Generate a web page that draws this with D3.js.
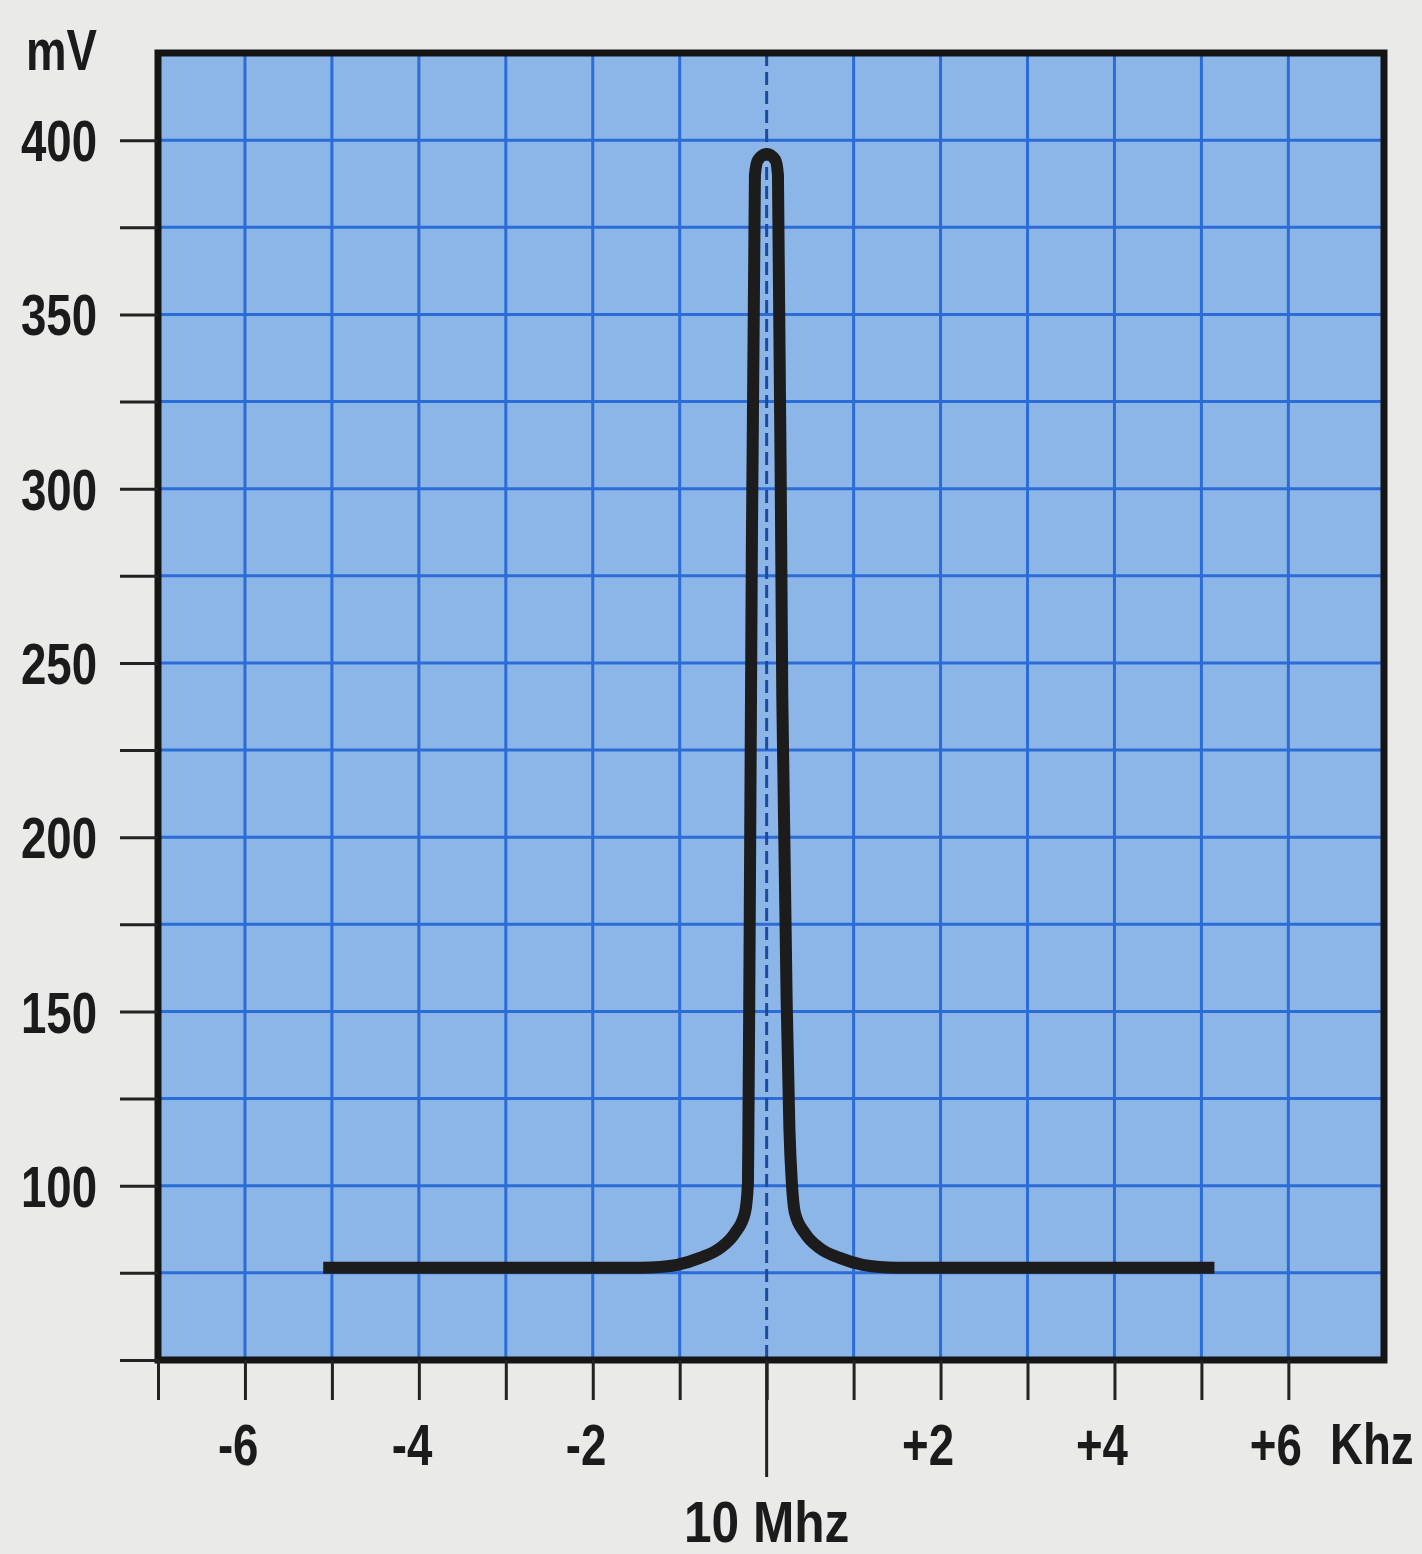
<!DOCTYPE html>
<html>
<head>
<meta charset="utf-8">
<script src="https://cdn.jsdelivr.net/npm/d3@7"></script>
<style>
  html, body { margin: 0; padding: 0; background: #eaeae8; }
  svg { display: block; }
  .lbl { font-family: "Liberation Sans", Arial, sans-serif; font-weight: bold; fill: #1b1b1b; }
</style>
</head>
<body>
<svg id="chart" width="1422" height="1554"></svg>
<script>
// Resonance curve of a 10 MHz filter: output level (mV) vs. offset from centre (kHz)
const offsetKhz = [-5.1, -1.45, -1.23, -1.03, -0.767, -0.537, -0.365, -0.25, -0.215, -0.21, -0.2, -0.18, -0.135, -0.1, 0,
                   0.1, 0.13, 0.18, 0.23, 0.262, 0.29, 0.325, 0.44, 0.61, 0.84, 1.105, 1.3, 1.5, 5.15];
const levelMv   = [76.5, 76.5, 76.7, 77.3, 79.3, 82.1, 86.4, 92.2, 100.8, 116, 153, 240, 390, 394.3, 396,
                   394.3, 390, 240, 153, 116, 100.8, 92.2, 86.4, 82.1, 79.3, 77.3, 76.7, 76.5, 76.5];

const yTicks = [50, 75, 100, 125, 150, 175, 200, 225, 250, 275, 300, 325, 350, 375, 400];
const yLabelled = [100, 150, 200, 250, 300, 350, 400];
const xTicks = [-7, -6, -5, -4, -3, -2, -1, 0, 1, 2, 3, 4, 5, 6];
const xLabelled = [-6, -4, -2, 2, 4, 6];
const xGrid = [-6, -5, -4, -3, -2, -1, 1, 2, 3, 4, 5, 6];
const yGrid = [75, 100, 125, 150, 175, 200, 225, 250, 275, 300, 325, 350, 375, 400];

const svg = d3.select("#chart");
const plotLeft = 158, plotRight = 1384, plotTop = 53, plotBottom = 1360;

const x = d3.scaleLinear().domain([-7, 7.1]).range([plotLeft, plotRight]);
const y = d3.scaleLinear().domain([50, 425]).range([plotBottom, plotTop]);

// plot background
svg.append("rect")
  .attr("x", plotLeft).attr("y", plotTop)
  .attr("width", plotRight - plotLeft).attr("height", plotBottom - plotTop)
  .attr("fill", "#8db6e8");

// grid
const grid = svg.append("g").attr("stroke", "#2b6cd6").attr("stroke-width", 3);
grid.selectAll("line.v").data(xGrid).join("line")
  .attr("class", "v")
  .attr("x1", d => x(d)).attr("x2", d => x(d))
  .attr("y1", plotTop).attr("y2", plotBottom);
grid.selectAll("line.h").data(yGrid).join("line")
  .attr("class", "h")
  .attr("x1", plotLeft).attr("x2", plotRight)
  .attr("y1", d => y(d)).attr("y2", d => y(d));

// centre frequency marker
svg.append("line")
  .attr("x1", x(0)).attr("x2", x(0))
  .attr("y1", plotTop).attr("y2", plotBottom)
  .attr("stroke", "#1d4a9c").attr("stroke-width", 3)
  .attr("stroke-dasharray", "13,6");

// response curve
const line = d3.line()
  .x((d, i) => x(offsetKhz[i]))
  .y(d => y(d))
  .curve(d3.curveMonotoneX);
svg.append("path")
  .attr("d", line(levelMv))
  .attr("fill", "none")
  .attr("stroke", "#1c1c1c")
  .attr("stroke-width", 12)
  .attr("stroke-linejoin", "round")
  .attr("stroke-linecap", "butt");

// frame
svg.append("rect")
  .attr("x", plotLeft).attr("y", plotTop)
  .attr("width", plotRight - plotLeft).attr("height", plotBottom - plotTop)
  .attr("fill", "none").attr("stroke", "#151515").attr("stroke-width", 7);

// y axis
const yAxis = d3.axisLeft(y)
  .tickValues(yTicks)
  .tickSize(38)
  .tickPadding(23)
  .tickFormat(d => yLabelled.includes(d) ? d : "");
const gy = svg.append("g").attr("transform", `translate(${plotLeft},0)`).call(yAxis);
gy.select(".domain").remove();
gy.selectAll(".tick line").attr("stroke", "#222").attr("stroke-width", 3);
gy.selectAll(".tick text")
  .attr("class", "lbl")
  .attr("font-size", 57)
  .attr("dy", "0.36em");

// x axis
const xAxis = d3.axisBottom(x)
  .tickValues(xTicks)
  .tickSize(40)
  .tickFormat(d => xLabelled.includes(d) ? (d > 0 ? "+" + d : String(d)) : "");
const gx = svg.append("g").attr("transform", `translate(0,${plotBottom})`).call(xAxis);
gx.select(".domain").remove();
gx.selectAll(".tick line").attr("stroke", "#222").attr("stroke-width", 3);
gx.selectAll(".tick text")
  .attr("class", "lbl")
  .attr("font-size", 57)
  .attr("text-anchor", "end")
  .attr("x", 13)
  .attr("y", 105)
  .attr("dy", 0);

// longer tick at the centre frequency
svg.append("line")
  .attr("x1", x(0)).attr("x2", x(0))
  .attr("y1", plotBottom).attr("y2", 1477)
  .attr("stroke", "#222").attr("stroke-width", 3);

// unit labels
svg.append("text").attr("class", "lbl").attr("font-size", 57)
  .attr("x", 97).attr("y", 70).attr("text-anchor", "end").text("mV");
svg.append("text").attr("class", "lbl").attr("font-size", 57)
  .attr("x", 1330).attr("y", 1464).text("Khz");
svg.append("text").attr("class", "lbl wide").attr("font-size", 57)
  .attr("x", x(0)).attr("y", 1542).attr("text-anchor", "middle").text("10 Mhz");

// condensed lettering: squeeze each label horizontally about its anchor point
svg.selectAll("text.lbl").each(function () {
  const t = d3.select(this);
  if (!t.text()) return;
  const k = t.classed("wide") ? 0.87 : 0.8;
  const tx = +t.attr("x") || 0, ty = +t.attr("y") || 0;
  t.attr("x", 0).attr("y", 0)
   .attr("transform", `translate(${tx},${ty}) scale(${k},1)`);
});
</script>
</body>
</html>
